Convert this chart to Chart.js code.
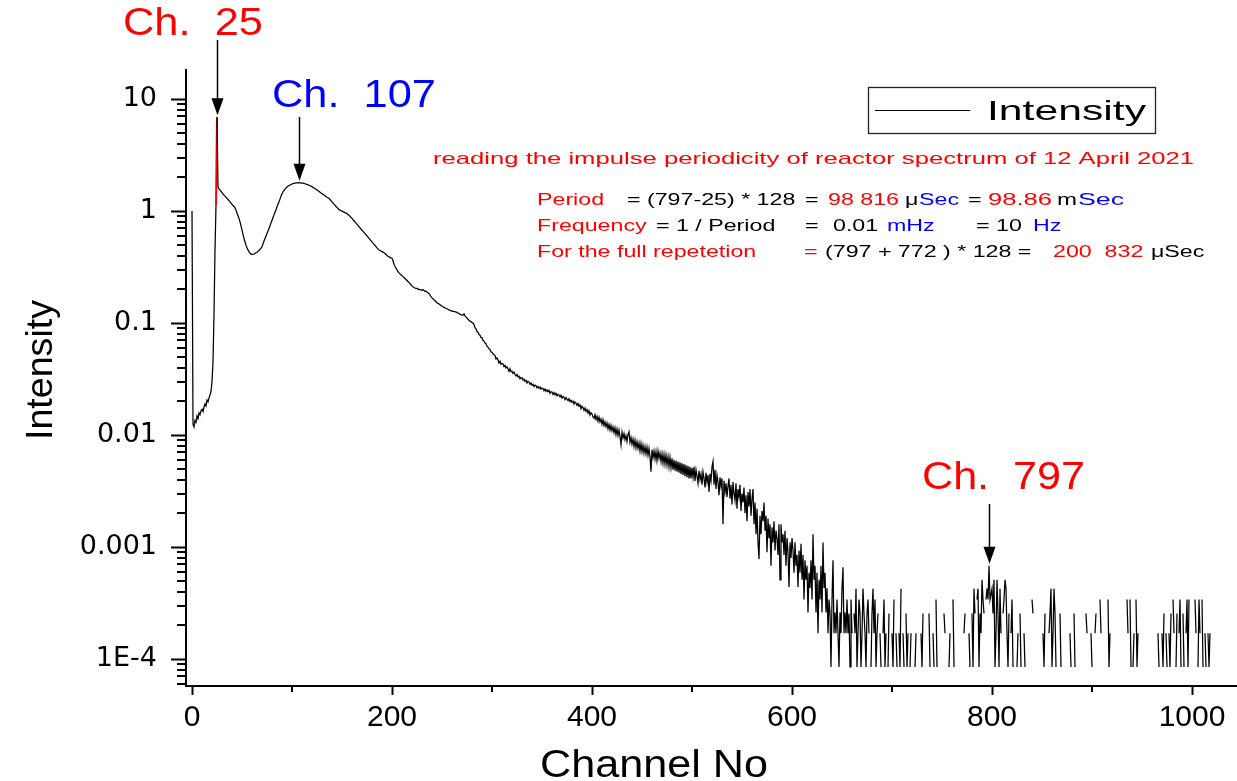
<!DOCTYPE html>
<html><head><meta charset="utf-8">
<script src="https://cdn.jsdelivr.net/npm/chart.js@4.4.1/dist/chart.umd.min.js"></script>
<style>html,body{margin:0;padding:0;background:#fff;}#wrap{width:1237px;height:781px;}</style>
</head><body><div id="wrap"><canvas id="c" width="1237" height="781"></canvas></div>
<script>
// ---- data (channel -> intensity), each block starts at a named channel ----
const riseStart = 0;
const dataRise = [1.0, 0.0125, 0.0118, 0.0135, 0.013, 0.0148, 0.014, 0.0158, 0.0152, 0.0165,
  0.017, 0.0162, 0.0178, 0.019, 0.0182, 0.0205, 0.0198, 0.0215, 0.0228, 0.0245,
  0.03, 0.045, 0.12, 0.45, 1.13, 6.9];
const humpStart = 26;
const dataHump = [1.65, 1.58, 1.54, 1.50, 1.46, 1.42, 1.39, 1.36, 1.33, 1.30,
  1.27, 1.24, 1.21, 1.18, 1.15, 1.12, 1.10, 1.07, 1.02, 0.96,
  0.91, 0.86, 0.80, 0.74, 0.68, 0.62, 0.57, 0.53, 0.495, 0.47,
  0.45, 0.435, 0.42, 0.413, 0.41, 0.411, 0.414, 0.418, 0.424, 0.43,
  0.437, 0.445, 0.455, 0.467, 0.48, 0.51, 0.54, 0.57, 0.60, 0.63,
  0.665, 0.70, 0.74, 0.785, 0.83, 0.875, 0.925, 0.975, 1.03, 1.09,
  1.15, 1.21, 1.28, 1.36, 1.43, 1.48, 1.53, 1.57, 1.61, 1.64,
  1.67, 1.69, 1.71, 1.73, 1.745, 1.76, 1.77, 1.78, 1.785, 1.79,
  1.79, 1.795, 1.79, 1.785, 1.78, 1.775, 1.765, 1.755, 1.74, 1.73,
  1.715, 1.70, 1.685, 1.67, 1.65, 1.63, 1.61, 1.59, 1.57, 1.545,
  1.52, 1.50, 1.475, 1.45, 1.43, 1.41, 1.39, 1.37, 1.35, 1.33,
  1.315, 1.30, 1.27, 1.24, 1.21, 1.18, 1.155, 1.13, 1.10, 1.08,
  1.055, 1.03, 1.02, 1.01, 1.00, 0.99, 0.98, 0.97, 0.96, 0.945,
  0.93, 0.92, 0.90, 0.88, 0.86, 0.84, 0.82, 0.80, 0.78, 0.76,
  0.745, 0.725, 0.71, 0.69, 0.675, 0.66, 0.645, 0.63, 0.615, 0.60,
  0.585, 0.57, 0.557, 0.544, 0.53, 0.517, 0.505, 0.493, 0.482, 0.47,
  0.46, 0.45, 0.445, 0.44, 0.435, 0.43, 0.425, 0.418, 0.41, 0.402,
  0.395, 0.39, 0.386, 0.382, 0.38, 0.36, 0.335, 0.32, 0.31, 0.298,
  0.287, 0.281, 0.275, 0.27, 0.265, 0.26, 0.255, 0.25, 0.245, 0.24,
  0.235, 0.23, 0.225, 0.22, 0.215, 0.211];
const slopeStart = 222;
const dataSlope = [0.208, 0.206, 0.203, 0.205, 0.201, 0.199, 0.200, 0.198, 0.196, 0.199,
  0.195, 0.192, 0.193, 0.189, 0.186, 0.184, 0.178, 0.172, 0.168, 0.165,
  0.161, 0.158, 0.155, 0.152, 0.150, 0.148, 0.146, 0.143, 0.142, 0.140,
  0.138, 0.137, 0.135, 0.134, 0.133, 0.131, 0.130, 0.129, 0.128, 0.127,
  0.127, 0.126, 0.126, 0.124, 0.123, 0.122, 0.120, 0.119, 0.118, 0.118,
  0.121, 0.116, 0.113, 0.111, 0.108, 0.106, 0.104, 0.103, 0.101, 0.100,
  0.097, 0.091, 0.089, 0.084, 0.083, 0.079, 0.078, 0.074, 0.074, 0.0702,
  0.069, 0.0662, 0.0655, 0.0622, 0.0611, 0.0588, 0.0581, 0.0552, 0.0549, 0.0532,
  0.0521, 0.0512, 0.0478, 0.0489, 0.0468, 0.0441, 0.0457, 0.0429, 0.0436, 0.0431,
  0.0409, 0.0418, 0.0398, 0.0407, 0.0389, 0.0371, 0.0392, 0.0368, 0.0372, 0.0355,
  0.0364, 0.0349, 0.0338, 0.0347, 0.0331, 0.0335, 0.0318, 0.0326, 0.0324, 0.0309,
  0.0316, 0.0301, 0.0308, 0.0291, 0.0302, 0.0297, 0.0284, 0.0292, 0.0279, 0.0284,
  0.0271, 0.0279, 0.0276, 0.0264, 0.0272, 0.0262, 0.0268, 0.0257, 0.0263, 0.0261,
  0.0249, 0.0257, 0.0246, 0.0253, 0.0244, 0.0251, 0.0236, 0.0244, 0.0242, 0.0231,
  0.0239, 0.0229, 0.0236, 0.0224, 0.0231, 0.0228, 0.0219, 0.0227, 0.0214, 0.0221,
  0.0218, 0.0207, 0.0216, 0.0209, 0.0203, 0.0211, 0.0199, 0.0205, 0.0196, 0.0201,
  0.0189, 0.0198, 0.0193, 0.0184, 0.0191, 0.0181, 0.0186, 0.0172, 0.0181, 0.0176,
  0.0166, 0.0174, 0.0163, 0.0169, 0.0157, 0.0165, 0.0151, 0.0158, 0.0154, 0.0145];
const noisyStart = 402;
const dataNoisy = [0.0141, 0.0152, 0.0138, 0.0147, 0.0133, 0.0144, 0.0131, 0.0139, 0.0125, 0.0137,
  0.0122, 0.0131, 0.0119, 0.0128, 0.0114, 0.0124, 0.0111, 0.0122, 0.0109, 0.0118,
  0.0105, 0.0116, 0.0101, 0.0113, 0.0099, 0.0111, 0.0097, 0.0082, 0.0106, 0.0094,
  0.0103, 0.0091, 0.0099, 0.0088, 0.0101, 0.0107, 0.0086, 0.0095, 0.0083, 0.0092,
  0.0079, 0.0090, 0.0077, 0.0087, 0.0076, 0.0085, 0.0072, 0.0084, 0.0071, 0.0081,
  0.0069, 0.0079, 0.0068, 0.0078, 0.0066, 0.0076, 0.0064, 0.0047, 0.0074, 0.0063,
  0.0072, 0.0061, 0.0071, 0.0059, 0.0072, 0.0062, 0.0069, 0.0058, 0.0068, 0.0056,
  0.0067, 0.0055, 0.0066, 0.0054, 0.0064, 0.0052, 0.0063, 0.0051, 0.0062, 0.0049,
  0.0060, 0.0048, 0.0059, 0.0047, 0.0058, 0.0046, 0.0057, 0.0045, 0.0056, 0.0044,
  0.0055, 0.0043, 0.0054, 0.0042, 0.0053, 0.0041, 0.0052, 0.0041, 0.0051, 0.0042,
  0.0052, 0.0039, 0.0049, 0.0043, 0.0037, 0.0048, 0.0040, 0.0045, 0.0036, 0.0047,
  0.0041, 0.0034, 0.0046, 0.0038, 0.0044, 0.0031, 0.0045, 0.0039, 0.0052, 0.0058,
  0.0036, 0.0049, 0.0033, 0.0044, 0.0038, 0.0029, 0.0042, 0.0035, 0.0041, 0.0016,
  0.0039, 0.0031, 0.0037, 0.0028, 0.0035, 0.0041, 0.0027, 0.0036, 0.0024, 0.0038,
  0.0030, 0.0026, 0.0037, 0.0022, 0.0033, 0.0028, 0.0036, 0.0021, 0.0030, 0.0025,
  0.0034, 0.0020, 0.0029, 0.0017, 0.0031, 0.0023, 0.0033, 0.0019, 0.0027, 0.0033,
  0.0016, 0.0025, 0.0013, 0.0022, 0.0011, 0.00078, 0.0019, 0.0013, 0.0021, 0.0017,
  0.0025, 0.0014, 0.0019, 0.0009, 0.0018, 0.0012, 0.0016, 0.00068, 0.0015, 0.0011,
  0.0017, 0.00093, 0.0014, 0.0012, 0.00085, 0.0016, 0.00051, 0.0016, 0.0011, 0.0013,
  0.00085, 0.0014, 0.00068, 0.0012, 0.0009, 0.00044, 0.0011, 0.0008, 0.0012, 0.00093,
  0.00059, 0.0011, 0.00068, 0.00085, 0.00044, 0.00093, 0.00059, 0.00107, 0.00051, 0.00085,
  0.00034, 0.00076, 0.00051, 0.00068, 0.00026, 0.00059, 0.00043, 0.00076, 0.00034, 0.0013,
  0.00051, 0.00068, 0.00026, 0.00059, 0.00017, 0.00051, 0.00034, 0.00068, 0.00026, 0.0011,
  0.00043, 0.00059, 0.00026, 0.00043, 0.00017, 0.00034, 0.00026, 0.000085, 0.00034, 0.00076,
  0.00017, 0.00026, 0.00017, 0.00034, 0.00017, 0.000085, 0.00026, 0.00017, 0.00043, 0.00066,
  0.00017, 0.00026, 0.00017, 0.00034];
const tailStart = 656; // null = zero counts (gap on log axis)
const dataTail = [1.7e-4, 2.55e-4, 8.5e-5, 3.4e-4, 1.7e-4, null, 2.55e-4, 1.7e-4, 4.25e-4, 8.5e-5,
  1.7e-4, 3.4e-4, 2.55e-4, 8.5e-5, 1.7e-4, 4.25e-4, 2.55e-4, 1.7e-4, 8.5e-5, 2.55e-4,
  3.4e-4, 1.7e-4, null, 8.5e-5, 2.55e-4, 4.25e-4, 1.7e-4, 3.4e-4, 8.5e-5, 1.7e-4,
  2.55e-4, null, 1.7e-4, 8.5e-5, null, 1.7e-4, 3.4e-4, 8.5e-5, 1.7e-4, null,
  8.5e-5, 2.55e-4, null, null, 1.7e-4, 8.5e-5, 3.4e-4, null, 1.7e-4, 8.5e-5,
  null, 1.7e-4, 8.5e-5, 4.25e-4, null, 1.7e-4, 8.5e-5, null, 2.55e-4, 8.5e-5,
  1.7e-4, null, 8.5e-5, 1.7e-4, null, 3.4e-4, null, 8.5e-5, 1.7e-4, null,
  null, 8.5e-5, null, 1.7e-4, 8.5e-5, 2.55e-4, null, 1.7e-4, null, 8.5e-5,
  null, 2.55e-4, 8.5e-5, null, null, 1.7e-4, 8.5e-5, null, 3.4e-4, 8.5e-5,
  null, 1.7e-4, null, 8.5e-5, null, null, 2.55e-4, 1.7e-4, null, 8.5e-5,
  null, 8.5e-5, 1.7e-4, null, null, 3.4e-4, 8.5e-5, null, 1.7e-4, null,
  null, 2.55e-4, null, 8.5e-5, null, null, 1.7e-4, 2.55e-4, null, 8.5e-5,
  null, 1.7e-4, 8.5e-5, null, 2.55e-4, 8.5e-5, 4.25e-4, 2.55e-4, null, 3.4e-4,
  4.25e-4, 8.5e-5, 2.55e-4, 1.7e-4, 5.1e-4, 3.4e-4, 2.55e-4, null, 3.4e-4, 4.25e-4,
  3.4e-4, 6.8e-4, 3.4e-4, 3.4e-4, 4.25e-4, 2.55e-4, 5.1e-4, 8.5e-5, 1.7e-4, 5.1e-4,
  2.55e-4, 8.5e-5, 4.25e-4, 1.7e-4, null, 2.55e-4, 3.4e-4, 5.1e-4, 4.25e-4, 1.7e-4,
  8.5e-5, 2.55e-4, null, 1.7e-4, 3.4e-4, 8.5e-5, null, 2.55e-4, null, 8.5e-5,
  1.7e-4, null, 2.55e-4, 8.5e-5, null, null, 1.7e-4, 8.5e-5, null, null,
  null, null, null, null, 3.4e-4, 2.55e-4, null, null, null, null,
  1.7e-4, null, 8.5e-5, null, null, 1.7e-4, 8.5e-5, 2.55e-4, null, 8.5e-5,
  null, 1.7e-4, 2.55e-4, 4.25e-4, 8.5e-5, 1.7e-4, 4.25e-4, 2.55e-4, 8.5e-5, null,
  1.7e-4, null, 2.55e-4, 8.5e-5, null, 1.7e-4, null, null, 1.7e-4, null,
  8.5e-5, null, 1.7e-4, 8.5e-5, null, null, 2.55e-4, 8.5e-5, null, 1.7e-4,
  null, null, 8.5e-5, null, 1.7e-4, null, 8.5e-5, null, 2.55e-4, 1.7e-4,
  null, 8.5e-5, null, 1.7e-4, 8.5e-5, null, null, 1.7e-4, 2.55e-4, null,
  8.5e-5, null, 3.4e-4, 1.7e-4, null, 8.5e-5, null, 1.7e-4, null, null,
  3.4e-4, 8.5e-5, 1.7e-4, null, 8.5e-5, null, null, null, null, null,
  null, null, null, null, null, null, null, null, null, 3.4e-4,
  1.7e-4, null, 3.4e-4, 8.5e-5, null, 8.5e-5, 1.7e-4, null, 3.4e-4, 8.5e-5,
  1.7e-4, null, 2.55e-4, null, 8.5e-5, null, 1.7e-4, null, 8.5e-5, null,
  2.55e-4, null, null, 8.5e-5, null, null, 1.7e-4, null, 8.5e-5, null,
  1.7e-4, 8.5e-5, null, null, 1.7e-4, 8.5e-5, 2.55e-4, null, 1.7e-4, 8.5e-5,
  null, 1.7e-4, 8.5e-5, 2.55e-4, null, 3.4e-4, 1.7e-4, null, 8.5e-5, 2.55e-4,
  null, 1.7e-4, 3.4e-4, 8.5e-5, null, 2.55e-4, 8.5e-5, null, 1.7e-4, 3.4e-4,
  8.5e-5, 3.4e-4, null, 1.7e-4, null, 8.5e-5, null, 3.4e-4, 1.7e-4, null,
  8.5e-5, 3.4e-4, 1.7e-4, null, 3.4e-4, 8.5e-5, null, 1.7e-4, 8.5e-5, null,
  1.7e-4, 8.5e-5, 1.7e-4];

const xTickValues = [0, 200, 400, 600, 800, 1000];
const xMinorTicks = [100, 300, 500, 700, 900];
const yTickValues = [10, 1, 0.1, 0.01, 0.001, 0.0001];
const yTickLabels = ['10', '1', '0.1', '0.01', '0.001', '1E-4'];
const seriesName = 'Intensity';
const markedChannels = [25, 107, 797];
const markedPeaks = [6.9, 1.79, 6.8e-4];

// ---- build points ----
const blocks = [[riseStart, dataRise], [humpStart, dataHump], [slopeStart, dataSlope], [noisyStart, dataNoisy], [tailStart, dataTail]];
const points = [];
blocks.forEach(([s, arr]) => arr.forEach((v, i) => points.push({x: s + i, y: v})));

const FONT = "'Liberation Sans', Arial, Helvetica, sans-serif";
const RED = '#ff0000', BLUE = '#0000ff', BLACK = '#000000';

function stretchText(ctx, text, x0, baseline, size, color, hs, x1) {
  ctx.save();
  ctx.font = size + 'px ' + FONT;
  ctx.fillStyle = color; ctx.textAlign = 'left'; ctx.textBaseline = 'alphabetic';
  const w = ctx.measureText(text).width;
  const s = (x1 !== undefined) ? (x1 - x0) / w : hs;
  ctx.translate(x0, baseline); ctx.scale(s, 1);
  ctx.fillText(text, 0, 0);
  ctx.restore();
}
function arrow(ctx, xp, y0, tip) {
  ctx.save();
  ctx.strokeStyle = '#000'; ctx.fillStyle = '#000'; ctx.lineWidth = 1.5;
  ctx.beginPath(); ctx.moveTo(xp, y0); ctx.lineTo(xp, tip - 14); ctx.stroke();
  ctx.beginPath(); ctx.moveTo(xp - 6, tip - 17); ctx.lineTo(xp + 6, tip - 17); ctx.lineTo(xp, tip); ctx.closePath(); ctx.fill();
  ctx.restore();
}

// [text, x start, colour, optional x end]
const lineSegs = [
  {b: 205, segs: [['Period', 537, RED], ['= (797-25) * 128', 627, BLACK], ['=', 805, BLACK], ['98 816', 828, RED], ['\u03bc', 905, BLACK], ['Sec', 919, BLUE], ['=', 968, BLACK], ['98.86', 988, RED, 1052], ['m', 1057, BLACK, 1077], ['Sec', 1078, BLUE, 1124]]},
  {b: 231, segs: [['Frequency', 537, RED], ['= 1 / Period', 656, BLACK], ['=', 805, BLACK], ['0.01', 833, BLACK], ['mHz', 887, BLUE], ['= 10', 976, BLACK], ['Hz', 1033, BLUE]]},
  {b: 257, segs: [['For the full repetetion', 537, RED], ['=', 804, RED], ['(797 + 772 ) * 128 =', 825, BLACK], ['200  832', 1053, RED], ['\u03bcSec', 1151, BLACK]]}
];

const decor = {
  id: 'decor',
  afterDraw(chart) {
    const {ctx, chartArea: a, scales: {x, y}} = chart;
    // minor ticks (2..9 per decade on the log axis, odd hundreds on the x axis)
    ctx.save();
    ctx.strokeStyle = '#000'; ctx.lineWidth = 2;
    ctx.beginPath();
    for (let e = -5; e <= 1; e++) {
      for (let k = 2; k <= 9; k++) {
        const v = k * Math.pow(10, e);
        if (v < y.min || v > y.max) continue;
        const py = Math.round(y.getPixelForValue(v));
        ctx.moveTo(a.left - 9, py); ctx.lineTo(a.left, py);
      }
    }
    ctx.stroke();
    ctx.beginPath();
    xMinorTicks.forEach(v => { const px = Math.round(x.getPixelForValue(v)); ctx.moveTo(px, a.bottom); ctx.lineTo(px, a.bottom + 6); });
    ctx.stroke();
    ctx.restore();

    // arrows
    const starts = [40, 117, 504];
    markedChannels.forEach((c, i) => arrow(ctx, Math.round(x.getPixelForValue(c)) + 0.5, starts[i], y.getPixelForValue(markedPeaks[i]) - 2));
    // channel labels
    stretchText(ctx, 'Ch.  25', 123, 35, 38, RED, 1, 263);
    stretchText(ctx, 'Ch.  107', 272, 107, 38, BLUE, 1, 436);
    stretchText(ctx, 'Ch.  797', 922, 489, 38, RED, 1, 1085);
    // notes
    stretchText(ctx, 'reading the impulse periodicity of reactor spectrum of 12 April 2021', 433, 164, 17, RED, 1, 1194);
    lineSegs.forEach(l => l.segs.forEach(s => stretchText(ctx, s[0], s[1], l.b, 16, s[2], 1.45, s[3])));

    // legend
    ctx.save();
    ctx.strokeStyle = '#222'; ctx.lineWidth = 1.3;
    ctx.strokeRect(868.5, 87.5, 287, 46);
    ctx.strokeStyle = '#000'; ctx.lineWidth = 1;
    ctx.beginPath(); ctx.moveTo(875, 110.5); ctx.lineTo(970, 110.5); ctx.stroke();
    ctx.restore();
    stretchText(ctx, seriesName, 987, 120, 28, BLACK, 1, 1146);

    // axis titles
    stretchText(ctx, 'Channel No', 540, 777, 38, BLACK, 1, 768);
    ctx.save();
    ctx.translate(52, 440); ctx.rotate(-Math.PI / 2);
    ctx.font = '36px ' + FONT; ctx.fillStyle = '#000'; ctx.textAlign = 'left'; ctx.textBaseline = 'alphabetic';
    const w = ctx.measureText('Intensity').width;
    ctx.scale(140 / w, 1);
    ctx.fillText('Intensity', 0, 0);
    ctx.restore();
  }
};

new Chart(document.getElementById('c').getContext('2d'), {
  type: 'line',
  data: { datasets: [{
    label: seriesName, data: points,
    borderColor: '#000', borderWidth: 1.25, pointRadius: 0, spanGaps: false, tension: 0,
    segment: {
      borderColor: c => (points[c.p0DataIndex] && points[c.p0DataIndex].x === 24 ? RED : undefined),
      borderWidth: c => (points[c.p0DataIndex] && points[c.p0DataIndex].x === 24 ? 2 : undefined)
    }
  }]},
  options: {
    responsive: false, animation: false, devicePixelRatio: 1,
    layout: { padding: { top: 70, right: 0, left: 0, bottom: 0 } },
    plugins: { legend: { display: false }, tooltip: { enabled: false } },
    scales: {
      x: {
        type: 'linear', min: -6, max: 1045,
        afterBuildTicks: s => { s.ticks = xTickValues.map(v => ({value: v})); },
        afterFit: s => { s.height = 95; },
        grid: { drawOnChartArea: false, drawTicks: true, tickLength: 9, tickColor: '#000', tickWidth: 2 },
        border: { color: '#000', width: 2 },
        ticks: { font: { family: FONT, size: 30 }, color: '#000', padding: 5, maxRotation: 0, autoSkip: false, callback: v => String(v) }
      },
      y: {
        type: 'logarithmic', min: 5.74e-5, max: 18.2,
        afterBuildTicks: s => { s.ticks = yTickValues.map(v => ({value: v})); },
        afterFit: s => { s.width = 186; },
        grid: { drawOnChartArea: false, drawTicks: true, tickLength: 15, tickColor: '#000', tickWidth: 2 },
        border: { color: '#000', width: 2 },
        ticks: { font: { family: "'DejaVu Sans', sans-serif", size: 27 }, color: '#000', padding: 14, autoSkip: false,
          callback: (v) => { const i = yTickValues.findIndex(t => Math.abs(t - v) / t < 1e-6); return i >= 0 ? yTickLabels[i] : ''; } }
      }
    }
  },
  plugins: [decor]
});
</script></body></html>
